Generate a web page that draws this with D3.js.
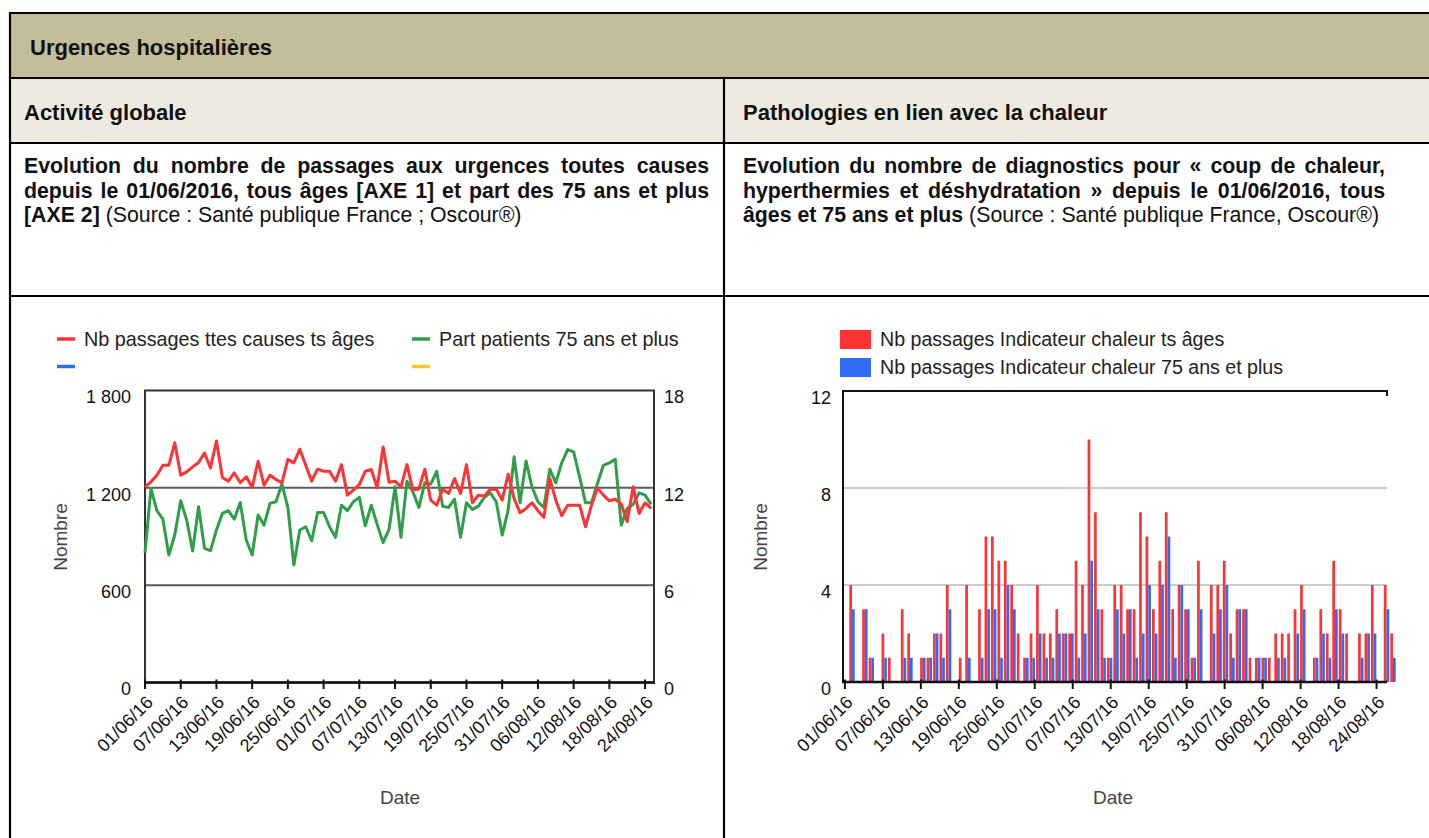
<!DOCTYPE html>
<html><head><meta charset="utf-8">
<script src="https://cdn.jsdelivr.net/npm/d3@7"></script>
<style>
body{margin:0;width:1429px;height:838px;overflow:hidden;background:#fff;font-family:"Liberation Sans",Arial,sans-serif;position:relative;}
.pl{position:absolute;font-size:21.3px;line-height:21.3px;height:22px;white-space:nowrap;text-align:justify;color:#111;}
.pl.j{text-align-last:justify;}
.pl b{font-weight:bold;}
</style></head><body>
<script>
// ---------- data ----------
const passages = [1206,1237,1278,1339,1339,1477,1278,1298,1329,1356,
  1415,1323,1489,1264,1241,1292,1231,1268,1202,1364,
  1216,1278,1251,1231,1376,1354,1438,1339,1241,1315,
  1302,1302,1241,1343,1155,1186,1220,1302,1313,1200,
  1452,1235,1241,1206,1343,1186,1192,1315,1124,1093,
  1192,1165,1257,1165,1343,1108,1155,1149,1192,1192,
  1124,1284,1134,1046,1073,1108,1059,1018,1257,1124,
  1028,1093,1093,1093,960,1093,1200,1155,1120,1130,
  1100,991,1206,1042,1108,1073];
const part75 = [8.0,11.96,10.59,10.07,7.86,9.09,11.2,10.01,8.11,10.83,
  8.27,8.13,9.4,10.42,10.59,10.07,11.1,8.78,7.86,10.32,
  9.7,11.04,11.14,12.23,10.79,7.25,9.4,9.6,8.74,10.48,
  10.48,9.6,8.95,10.93,10.59,11.14,11.41,9.66,10.93,9.75,
  8.62,9.45,12.06,8.95,12.41,11.75,10.79,12.31,12.23,13.02,
  10.87,10.79,11.3,8.95,11.08,10.67,10.87,11.41,11.69,11.14,
  9.09,10.63,13.91,11.08,13.66,12.06,11.14,10.79,13.15,12.31,
  13.54,14.36,14.21,12.68,11.08,11.08,12.27,13.39,13.54,13.76,
  9.7,10.73,10.98,11.69,11.55,10.98];
const chaleurTous = [4,0,3,1,0,2,1,0,3,2, 0,1,1,2,2,4,0,1,4,0,
  3,6,6,5,5,4,2,1,2,4, 2,2,3,2,2,5,4,10,7,3,
  1,4,4,3,3,7,6,3,5,7, 3,4,3,1,5,0,4,4,5,2,
  3,3,1,1,1,1,2,2,2,3, 4,0,1,3,2,5,3,2,0,2,
  2,4,0,4,2];
const chaleur75 = [3,0,3,1,0,1,0,0,1,1, 0,1,1,2,1,3,0,0,1,0,
  1,3,3,1,4,3,0,1,1,2, 1,1,2,2,2,1,2,5,3,1,
  1,3,2,3,1,2,4,2,4,6, 1,4,3,1,3,0,2,3,4,1,
  3,3,0,1,1,0,1,1,0,2, 3,0,1,2,1,3,2,0,0,1,
  2,2,0,3,1];
const tickLabels = ["01/06/16","07/06/16","13/06/16","19/06/16","25/06/16","01/07/16","07/07/16",
  "13/07/16","19/07/16","25/07/16","31/07/16","06/08/16","12/08/16","18/08/16","24/08/16"];
const leftYTicks = [0,600,1200,1800];
const rightYTicks = [0,6,12,18];
const barYTicks = [0,4,8,12];
const legendLeft = ["Nb passages ttes causes ts âges","Part patients 75 ans et plus","",""];
const legendRight = ["Nb passages Indicateur chaleur ts âges","Nb passages Indicateur chaleur 75 ans et plus"];

// ---------- helpers ----------
const DAY = 864e5;
const start = new Date(2016,5,1);
const dayOff = n => new Date(+start + n*DAY);
const lineDates = passages.map((_,i)=>dayOff(i));
const barDates = chaleurTous.map((_,i)=>dayOff(i));
const parseTick = d3.timeParse("%d/%m/%y");
const tickDates = tickLabels.map(parseTick);
const fmtDay = d3.timeFormat("%d/%m/%y");
const fr = d3.formatLocale({decimal:",",thousands:"\u00a0",grouping:[3],currency:["","€"]});
const fmtN = fr.format(",");

const RED="#ff3333", GREEN="#2f9e48", BLUE="#2f6bf3", YELLOW="#fdc62e";
const FONT='"Liberation Sans",Arial,sans-serif';

const body = d3.select("body");
const svg = body.append("svg").attr("width",1429).attr("height",838)
  .style("position","absolute").style("left","0px").style("top","0px")
  .style("font-family",FONT);

// ---------- table ----------
svg.append("rect").attr("x",10).attr("y",13).attr("width",1419).attr("height",65).attr("fill","#c4bd99");
svg.append("rect").attr("x",10).attr("y",78).attr("width",1419).attr("height",65).attr("fill","#edebe0");
const tl = svg.append("g").attr("stroke","#000").attr("stroke-width",2.2);
[13,78,143,296].forEach(y=>tl.append("line").attr("x1",9).attr("x2",1429).attr("y1",y).attr("y2",y));
tl.append("line").attr("x1",10).attr("x2",10).attr("y1",12).attr("y2",838);
tl.append("line").attr("x1",724).attr("x2",724).attr("y1",78).attr("y2",838);

svg.append("text").attr("x",30).attr("y",55).attr("font-size",22).attr("font-weight","bold").attr("fill","#111")
  .text("Urgences hospitalières");
svg.append("text").attr("x",24).attr("y",120).attr("font-size",22).attr("font-weight","bold").attr("fill","#111")
  .text("Activité globale");
svg.append("text").attr("x",743).attr("y",120).attr("font-size",22).attr("font-weight","bold").attr("fill","#111")
  .text("Pathologies en lien avec la chaleur");

const paraLeft = [
  ["<b>Evolution du nombre de passages aux urgences toutes causes</b>", true],
  ["<b>depuis le 01/06/2016, tous âges [AXE 1] et part des 75 ans et plus</b>", true],
  ["<b>[AXE 2]</b> (Source : Santé publique France ; Oscour®)", false]];
const paraRight = [
  ["<b>Evolution du nombre de diagnostics pour « coup de chaleur,</b>", true],
  ["<b>hyperthermies et déshydratation » depuis le 01/06/2016, tous</b>", true],
  ["<b>âges et 75 ans et plus</b> (Source : Santé publique France, Oscour®)", false]];
const baselines = [174, 198.5, 223];
function para(lines, left, width){
  lines.forEach((l,i)=>{
    body.append("div").attr("class","pl"+(l[1]?" j":""))
      .style("left",left+"px").style("width",width+"px")
      .style("top",(baselines[i]-18)+"px").html(l[0]);
  });
}
para(paraLeft, 24, 685);
para(paraRight, 743, 642);

// ---------- left chart ----------
const xL = d3.scaleTime().domain([start, dayOff(85.5)]).range([145,654]);
const yL = d3.scaleLinear().domain([0,1800]).range([682.5,390.5]);
const yR = d3.scaleLinear().domain([0,18]).range([682.5,390.5]);
const gL = svg.append("g");

// legend
const legL = [[57,339,RED,legendLeft[0]],[412,339,GREEN,legendLeft[1]],[57,366.5,BLUE,legendLeft[2]],[412,366.5,YELLOW,legendLeft[3]]];
legL.forEach(([x,y,c,t])=>{
  gL.append("line").attr("x1",x).attr("x2",x+18).attr("y1",y).attr("y2",y).attr("stroke",c).attr("stroke-width",3.5);
  gL.append("text").attr("x",x+27).attr("y",y).attr("dy","0.35em").attr("font-size",19.8).attr("fill","#222").text(t);
});

// gridlines
gL.selectAll(".gl").data([600,1200]).join("line")
  .attr("x1",145).attr("x2",654).attr("y1",d=>yL(d)).attr("y2",d=>yL(d))
  .attr("stroke","#5a5a5a").attr("stroke-width",2);
gL.append("rect").attr("x",145).attr("y",yL(1800)).attr("width",509).attr("height",yL(0)-yL(1800))
  .attr("fill","none").attr("stroke","#333").attr("stroke-width",2);

// lines
gL.append("path").datum(part75).attr("fill","none").attr("stroke",GREEN).attr("stroke-width",3)
  .attr("stroke-linejoin","round")
  .attr("d",d3.line().x((d,i)=>xL(lineDates[i])).y(d=>yR(d)));
gL.append("path").datum(passages).attr("fill","none").attr("stroke",RED).attr("stroke-width",3)
  .attr("stroke-linejoin","round")
  .attr("d",d3.line().x((d,i)=>xL(lineDates[i])).y(d=>yL(d)));
gL.append("line").attr("x1",144).attr("x2",655).attr("y1",yL(0)).attr("y2",yL(0)).attr("stroke","#111").attr("stroke-width",2.5);

// y labels
gL.selectAll(".yl").data(leftYTicks).join("text").attr("x",131).attr("y",d=>yL(d)+6.5).attr("dy","0.35em")
  .attr("text-anchor","end").attr("font-size",18).attr("fill","#111").text(d=>fmtN(d));
gL.selectAll(".yr").data(rightYTicks).join("text").attr("x",664).attr("y",d=>yR(d)+6.5).attr("dy","0.35em")
  .attr("text-anchor","start").attr("font-size",18).attr("fill","#111").text(d=>d);

function xAxis(g, scale){
  g.selectAll(".tk").data(tickDates).join("line").attr("x1",d=>scale(d)).attr("x2",d=>scale(d))
    .attr("y1",679.5).attr("y2",689).attr("stroke","#111").attr("stroke-width",2);
  g.selectAll(".tx").data(tickDates).join("text")
    .attr("transform",d=>`translate(${scale(d)+4.5},699) rotate(-45)`)
    .attr("text-anchor","end").attr("dy","0.35em").attr("font-size",18).attr("fill","#111")
    .text(d=>fmtDay(d));
}
xAxis(gL.append("g"), xL);
gL.append("text").attr("transform","translate(60,537) rotate(-90)").attr("text-anchor","middle").attr("dy","0.35em")
  .attr("font-size",19).attr("fill","#444").text("Nombre");
gL.append("text").attr("x",400).attr("y",797).attr("text-anchor","middle").attr("dy","0.35em")
  .attr("font-size",19).attr("fill","#444").text("Date");

// ---------- right chart ----------
const xAx = d3.scaleTime().domain([dayOff(-0.3), dayOff(85.65)]).range([843,1387]);
const xB = d3.scaleBand().domain(barDates.map(fmtDay)).range([848.8,1396.2]);
const yB = d3.scaleLinear().domain([0,12]).range([682,391]);
const gR = svg.append("g");

const legR = [[330,RED,legendRight[0]],[358,BLUE,legendRight[1]]];
legR.forEach(([y,c,t])=>{
  gR.append("rect").attr("x",840).attr("y",y).attr("width",31).attr("height",19).attr("fill",c);
  gR.append("text").attr("x",880).attr("y",y+9.5).attr("dy","0.35em").attr("font-size",19.6).attr("fill","#222").text(t);
});

gR.selectAll(".gl").data([4,8]).join("line")
  .attr("x1",843).attr("x2",1387).attr("y1",d=>yB(d)).attr("y2",d=>yB(d))
  .attr("stroke","#cccccc").attr("stroke-width",2);

const bw = 2.7;
gR.selectAll(".br").data(chaleurTous).join("rect")
  .attr("x",(d,i)=>xB(fmtDay(barDates[i]))+xB.bandwidth()/2-bw).attr("width",bw)
  .attr("y",d=>yB(d)).attr("height",d=>yB(0)-yB(d)).attr("fill",RED);
gR.selectAll(".bb").data(chaleur75).join("rect")
  .attr("x",(d,i)=>xB(fmtDay(barDates[i]))+xB.bandwidth()/2).attr("width",bw)
  .attr("y",d=>yB(d)).attr("height",d=>yB(0)-yB(d)).attr("fill",BLUE);

gR.append("path").attr("d",`M843,${yB(0)}V${yB(12)}H1387V${yB(12)+5}`).attr("fill","none")
  .attr("stroke","#111").attr("stroke-width",2);
gR.append("line").attr("x1",842).attr("x2",1387).attr("y1",yB(0)).attr("y2",yB(0)).attr("stroke","#111").attr("stroke-width",2.5);

gR.selectAll(".yl").data(barYTicks).join("text").attr("x",831).attr("y",d=>yB(d)+6.5).attr("dy","0.35em")
  .attr("text-anchor","end").attr("font-size",18).attr("fill","#111").text(d=>d);
xAxis(gR.append("g"), xAx);
gR.append("text").attr("transform","translate(760,537) rotate(-90)").attr("text-anchor","middle").attr("dy","0.35em")
  .attr("font-size",19).attr("fill","#444").text("Nombre");
gR.append("text").attr("x",1113).attr("y",797).attr("text-anchor","middle").attr("dy","0.35em")
  .attr("font-size",19).attr("fill","#444").text("Date");
</script>
</body></html>
